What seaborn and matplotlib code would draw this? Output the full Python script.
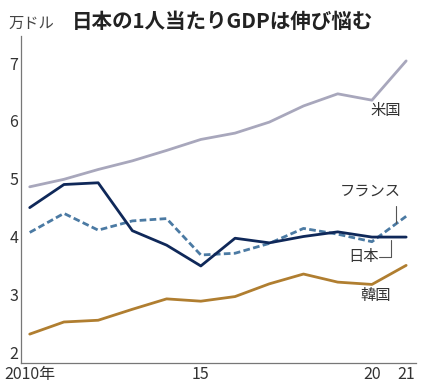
import pandas as pd
import matplotlib.pyplot as plt
import seaborn as sns

# データ（万ドル）
years = list(range(2010, 2022))
usa = [4.86, 4.99, 5.16, 5.31, 5.49, 5.68, 5.79, 5.98, 6.26, 6.47, 6.36, 7.04]
japan = [4.50, 4.90, 4.93, 4.10, 3.85, 3.49, 3.97, 3.89, 4.00, 4.08, 3.99, 3.99]
france = [4.07, 4.40, 4.11, 4.27, 4.31, 3.68, 3.71, 3.88, 4.14, 4.04, 3.91, 4.35]
korea = [2.31, 2.52, 2.55, 2.74, 2.92, 2.88, 2.96, 3.18, 3.35, 3.21, 3.17, 3.50]
x_labels = {2010: "2010年", 2015: "15", 2020: "20", 2021: "21"}

df = pd.DataFrame({"year": years, "米国": usa, "日本": japan,
                   "フランス": france, "韓国": korea})
long = df.melt(id_vars="year", var_name="country", value_name="gdp")

sns.set_style("white")
plt.rcParams['font.family'] = ['Noto Sans CJK JP', 'DejaVu Sans']

fig = plt.figure(figsize=(4.25, 3.92), dpi=100)
ax = fig.add_axes([0.049, 0.074, 0.93, 0.834])

colors = {"米国": "#a8a7bc", "日本": "#0f2859", "フランス": "#4b7aa3", "韓国": "#b07e30"}
for c in ["米国", "韓国", "フランス", "日本"]:
    sub = long[long["country"] == c]
    ls = (0, (2.4, 1.2)) if c == "フランス" else "-"
    sns.lineplot(data=sub, x="year", y="gdp", ax=ax, color=colors[c],
                 linewidth=2.0, linestyle=ls)

ax.set_xlim(2009.74, 2021.29)
ax.set_ylim(1.81, 7.47)
ax.set_xlabel("")
ax.set_ylabel("")

ax.set_xticks(years)
ax.set_xticklabels([x_labels.get(y, "") for y in years])
ax.set_yticks([2, 3, 4, 5, 6, 7])
ax.tick_params(axis="both", direction="in", length=4, width=0.8,
               colors="#777777", labelcolor="#333333", labelsize=11.5, pad=2)
ax.tick_params(axis="y", pad=2)
for s in ["top", "right"]:
    ax.spines[s].set_visible(False)
for s in ["left", "bottom"]:
    ax.spines[s].set_color("#777777")
    ax.spines[s].set_linewidth(0.9)

# 系列ラベル
ax.text(2020.4, 6.18, "米国", fontsize=11, color="#333333", ha="center", va="center")
ax.text(2019.95, 4.78, "フランス", fontsize=11, color="#333333", ha="center", va="center")
ax.plot([2020.7, 2020.7], [4.52, 4.24], color="#555555", lw=0.8)
ax.text(2019.75, 3.65, "日本", fontsize=11, color="#333333", ha="center", va="center")
ax.plot([2020.2, 2020.55, 2020.55], [3.65, 3.65, 3.94], color="#555555", lw=0.8)
ax.text(2020.1, 2.98, "韓国", fontsize=11, color="#333333", ha="center", va="center")

fig.text(8 / 425, 1 - 23 / 392, "万ドル", fontsize=11, color="#444444", va="center")
fig.text(72 / 425, 1 - 21 / 392, "日本の1人当たりGDPは伸び悩む", fontsize=14.8,
         fontweight="bold", color="#222222", va="center")

fig.savefig("out.png", dpi=100)
